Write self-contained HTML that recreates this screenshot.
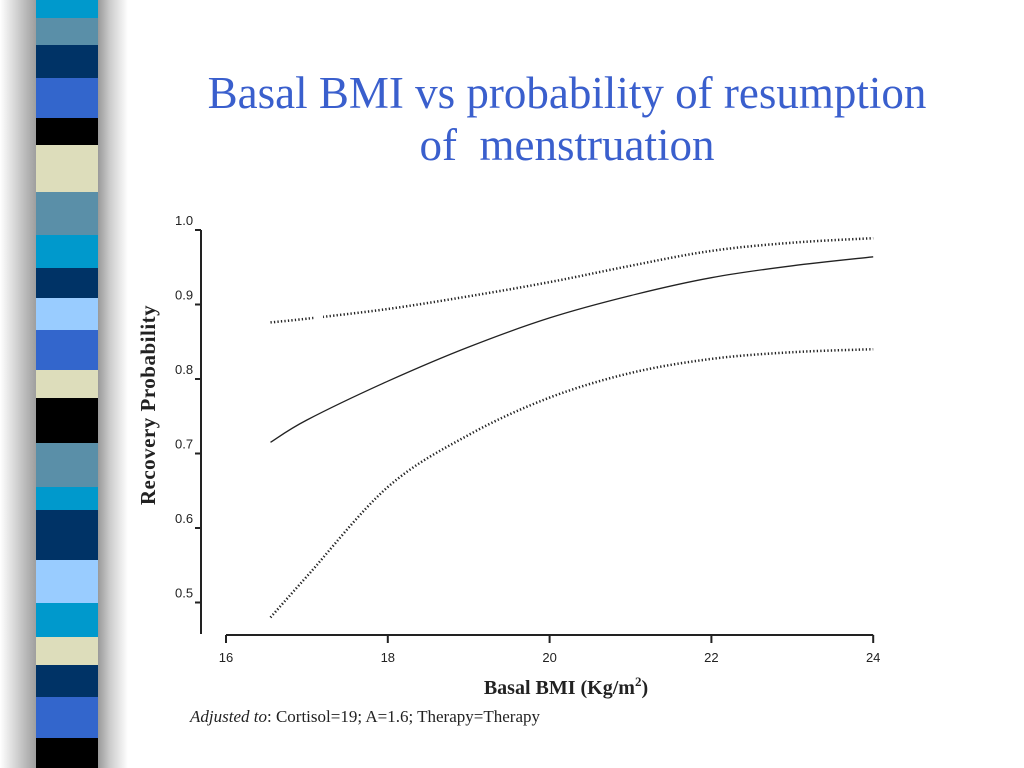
<!DOCTYPE html>
<html><head><meta charset="utf-8"><style>
body{margin:0;width:1024px;height:768px;background:#fff;overflow:hidden;font-family:"Liberation Serif",serif;position:relative}
#shadow{position:absolute;left:0;top:0;width:130px;height:768px;background:linear-gradient(90deg,#fff 0,#bbb 25px,#999 38px,#999 98px,#ccc 110px,#fff 128px)}
.st{position:absolute;left:36px;width:62px}
h1{position:absolute;left:130px;width:874px;top:67px;margin:0;text-align:center;font-weight:normal;font-size:45px;line-height:52px;color:#3a5fcd}
</style></head><body>
<div id="shadow"></div>
<div id="stripes"></div>
<h1>Basal BMI vs probability of resumption<br>of&nbsp; menstruation</h1>
<svg id="chart" width="1024" height="768" style="position:absolute;left:0;top:0"></svg>
<script>
const stripeStops=[0,18,45,78,118,145,192,235,268,298,330,370,398,443,487,510,560,603,637,665,697,738,768];
const stripeColors=["#0099cc","#5a8fa8","#003366","#3366cc","#000","#ddddbb","#5a8fa8","#0099cc","#003366","#99ccff","#3366cc","#ddddbb","#000","#5a8fa8","#0099cc","#003366","#99ccff","#0099cc","#ddddbb","#003366","#3366cc","#000"];
const sb=document.getElementById('stripes');
for(let i=0;i<stripeColors.length;i++){const d=document.createElement('div');d.className='st';d.style.top=stripeStops[i]+'px';d.style.height=(stripeStops[i+1]-stripeStops[i])+'px';d.style.background=stripeColors[i];


sb.appendChild(d);}

const xTicks=[16,18,20,22,24];
const yTicks=[0.5,0.6,0.7,0.8,0.9,1.0];
const yTickLabels=["0.5","0.6","0.7","0.8","0.9","1.0"];
const bmi=[16.55,17,18,19,20,21,22,23,24];
const estimate=[0.715,0.745,0.797,0.843,0.882,0.912,0.936,0.952,0.964];
const upper=[0.876,0.881,0.894,0.911,0.930,0.952,0.972,0.983,0.989];
const lower=[0.480,0.535,0.655,0.725,0.775,0.808,0.827,0.836,0.840];
const upperGap=[17.08,17.2];

const X=v=>226+(v-16)*80.9;
const Y=v=>230+(1-v)*745;
const svg=document.getElementById('chart');
const NS='http://www.w3.org/2000/svg';
function el(t,a,p){const e=document.createElementNS(NS,t);for(const k in a)e.setAttribute(k,a[k]);(p||svg).appendChild(e);return e;}
const yAx=el('line',{x1:201,y1:Y(1),x2:201,y2:634,stroke:'#222','stroke-width':2});


yTicks.forEach((v,i)=>{el('line',{x1:195,y1:Y(v),x2:201,y2:Y(v),stroke:'#222','stroke-width':2});
const t=el('text',{x:175,y:Y(v)-5,'font-family':'Liberation Sans, sans-serif','font-size':13,fill:'#222'});t.textContent=yTickLabels[i];

});
const xAx=el('line',{x1:X(16),y1:635,x2:X(24),y2:635,stroke:'#222','stroke-width':2});


xTicks.forEach(v=>{el('line',{x1:X(v),y1:635,x2:X(v),y2:643,stroke:'#222','stroke-width':2});
const t=el('text',{x:X(v),y:662,'text-anchor':'middle','font-family':'Liberation Sans, sans-serif','font-size':13,fill:'#222'});t.textContent=v;

});
function path(xs,ys){
  const P=xs.map((x,i)=>[X(x),Y(ys[i])]);
  let d='M'+P[0][0].toFixed(1)+' '+P[0][1].toFixed(1);
  for(let i=0;i<P.length-1;i++){
    const p0=P[Math.max(0,i-1)],p1=P[i],p2=P[i+1],p3=P[Math.min(P.length-1,i+2)];
    const c1=[p1[0]+(p2[0]-p0[0])/6,p1[1]+(p2[1]-p0[1])/6];
    const c2=[p2[0]-(p3[0]-p1[0])/6,p2[1]-(p3[1]-p1[1])/6];
    d+='C'+c1[0].toFixed(1)+' '+c1[1].toFixed(1)+' '+c2[0].toFixed(1)+' '+c2[1].toFixed(1)+' '+p2[0].toFixed(1)+' '+p2[1].toFixed(1);
  }
  return d;}
const m=el('path',{d:path(bmi,estimate),fill:'none',stroke:'#222','stroke-width':1.3});


const lo=el('path',{d:path(bmi,lower),fill:'none',stroke:'#222','stroke-width':2.5,'stroke-dasharray':'1.3 2.2'});


const up=el('path',{d:path(bmi,upper),fill:'none',stroke:'#222','stroke-width':2.5,'stroke-dasharray':'1.3 2.2'});


const gy=Y(upper[0]);
const gap=el('rect',{x:X(upperGap[0]),y:gy-8,width:X(upperGap[1])-X(upperGap[0]),height:14,fill:'#fff'});


const yt=el('text',{x:0,y:0,transform:'translate(155,405) rotate(-90)','text-anchor':'middle','font-size':21,'font-weight':'bold',fill:'#222','letter-spacing':'0.5'});yt.textContent='Recovery Probability';


const xt=el('text',{x:566,y:694,'text-anchor':'middle','font-size':20,'font-weight':'bold',fill:'#222'});xt.innerHTML='Basal BMI (Kg/m<tspan dy="-8" font-size="13">2</tspan><tspan dy="8">)</tspan>';


const note=el('text',{x:190,y:722,'font-size':17,fill:'#222'});note.innerHTML='<tspan font-style="italic">Adjusted to</tspan>: Cortisol=19; A=1.6; Therapy=Therapy';


</script>
</body></html>
